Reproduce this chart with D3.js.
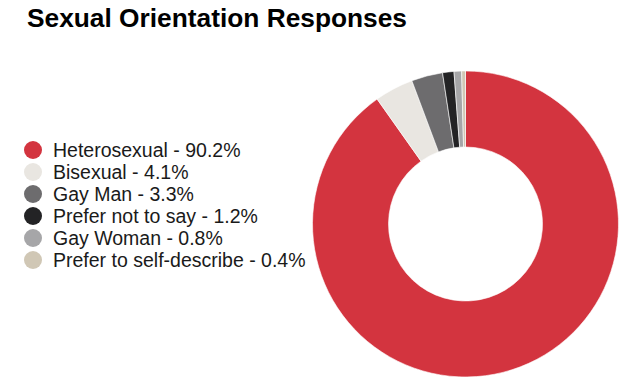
<!DOCTYPE html>
<html>
<head>
<meta charset="utf-8">
<script src="https://cdn.jsdelivr.net/npm/d3@7/dist/d3.min.js"></script>
<style>
  html, body { margin: 0; padding: 0; background: #fff; }
  svg { display: block; font-family: "Liberation Sans", Arial, Helvetica, sans-serif; }
</style>
</head>
<body>
<svg id="chart" width="629" height="380"></svg>
<script>
// Survey responses (percent of respondents)
const categories = ["Heterosexual", "Bisexual", "Gay Man", "Prefer not to say", "Gay Woman", "Prefer to self-describe"];
const values = [90.2, 4.1, 3.3, 1.2, 0.8, 0.4];
const colors = ["#d3343f", "#e9e6e1", "#6d6c6e", "#232325", "#a6a6a8", "#d0c7b5"];

const data = categories.map((c, i) => ({ category: c, value: values[i] }));

const svg = d3.select("#chart");

// Title
svg.append("text")
  .attr("x", 27)
  .attr("y", 27)
  .attr("font-size", 26.3)
  .attr("font-weight", "bold")
  .attr("fill", "#000")
  .text("Sexual Orientation Responses");

// Donut
const cx = 465.5, cy = 224, outerR = 153, innerR = 77;
const color = d3.scaleOrdinal().domain(categories).range(colors);

const pie = d3.pie().value(d => d.value).sort(null);
const arc = d3.arc().innerRadius(innerR).outerRadius(outerR);

svg.append("g")
  .attr("transform", `translate(${cx},${cy})`)
  .selectAll("path")
  .data(pie(data))
  .join("path")
  .attr("d", arc)
  .attr("fill", d => color(d.data.category))
  .attr("stroke", "#fff")
  .attr("stroke-width", 0.6);

// Legend
const legend = svg.append("g").attr("transform", "translate(33,150)");
const rowH = 22;
const rows = legend.selectAll("g")
  .data(data)
  .join("g")
  .attr("transform", (d, i) => `translate(0,${i * rowH})`);

rows.append("circle")
  .attr("r", 9)
  .attr("fill", d => color(d.category));

rows.append("text")
  .attr("x", 20)
  .attr("dy", "0.35em")
  .attr("font-size", 19.5)
  .attr("fill", "#1a1a1a")
  .text(d => `${d.category} - ${d.value}%`);
</script>
</body>
</html>
